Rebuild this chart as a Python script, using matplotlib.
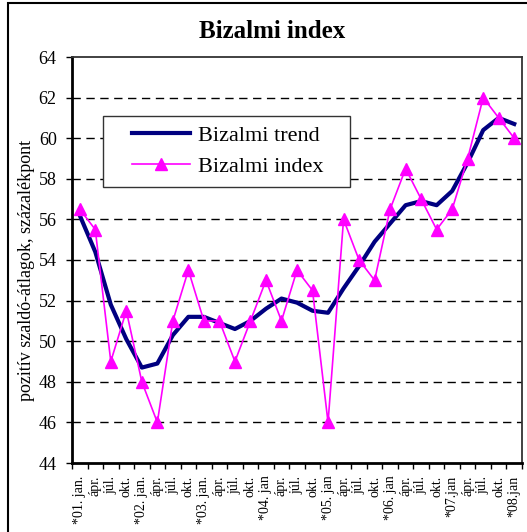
import matplotlib
matplotlib.use("Agg")
import matplotlib.pyplot as plt
from matplotlib.patches import Rectangle

plt.rcParams['font.family'] = ['Liberation Serif', 'DejaVu Serif']

# quarter labels, '01 jan .. '08 jan
labels = ["*01. jan.", "ápr.", "júl.", "okt.",
          "*02. jan.", "ápr.", "júl.", "okt.",
          "*03. jan.", "ápr.", "júl.", "okt.",
          "*04. jan", "ápr.", "júl.", "okt.",
          "*05. jan", "ápr.", "júl.", "okt.",
          "*06. jan", "ápr.", "júl.", "okt.",
          "*07.jan", "ápr.", "júl.", "okt.",
          "*08.jan"]

trend = [56.2, 54.4, 51.8, 50.1, 48.7, 48.9, 50.3, 51.2, 51.2, 50.9,
         50.6, 51.0, 51.6, 52.1, 51.9, 51.5, 51.4, 52.6, 53.7, 54.9,
         55.8, 56.7, 56.9, 56.7, 57.4, 58.8, 60.4, 61.0, 60.7]

index = [56.5, 55.5, 49.0, 51.5, 48.0, 46.0, 51.0, 53.5, 51.0, 51.0,
         49.0, 51.0, 53.0, 51.0, 53.5, 52.5, 46.0, 56.0, 54.0, 53.0,
         56.5, 58.5, 57.0, 55.5, 56.5, 59.0, 62.0, 61.0, 60.0]

x = list(range(len(labels)))

fig = plt.figure(figsize=(5.27, 5.32), dpi=100)
ax = fig.add_axes([72/527, 1-463/532, 450/527, 406/532])

for yv in range(46, 64, 2):
    ax.axhline(yv, color="black", lw=1, ls=(0, (6, 4)), zorder=1)

ax.plot(x, trend, color="#000080", lw=3, zorder=3, label="Bizalmi trend")
ax.plot(x, index, color="#ff00ff", lw=1.2, marker="^", ms=9,
        zorder=4, label="Bizalmi index")

ax.set_xlim(-0.5, len(labels) - 0.5)
ax.set_ylim(44, 64)
ax.set_yticks(range(44, 65, 2))
ax.tick_params(axis="y", direction="out", length=4, width=1, pad=7,
               labelsize=13)

ax.set_xticks(x)
ax.set_xticklabels(labels, rotation=90, fontsize=10, va="top", ha="center")
ax.set_xticks([i - 0.5 for i in range(len(labels) + 1)], minor=True)
ax.tick_params(axis="x", which="major", length=0, pad=9)
ax.tick_params(axis="x", which="minor", direction="out", length=4, width=1)

for side in ["left", "bottom"]:
    ax.spines[side].set_linewidth(2)
    ax.spines[side].set_color("black")
for side in ["top", "right"]:
    ax.spines[side].set_linewidth(1.3)
    ax.spines[side].set_color("#333333")

# legend frame drawn separately for its wide side padding
ax.add_patch(Rectangle((103/527, 1-187/532), 247/527, 71/532,
                       transform=fig.transFigure, fill=True,
                       facecolor="white", edgecolor="#333333", lw=1,
                       zorder=5))
leg = ax.legend(loc="center left", bbox_to_anchor=(128/527, 1-151/532),
                bbox_transform=fig.transFigure, frameon=False, fontsize=16,
                handlelength=2.6, handletextpad=0.35, labelspacing=0.45,
                borderpad=0.2, borderaxespad=0)
leg.set_zorder(6)

fig.text(272/527, 1-31/532, "Bizalmi index", ha="center", va="center",
         fontsize=18, fontweight="bold")
fig.text(27/527, 1-270/532, "pozitív szaldó-átlagok, százalékpont",
         rotation=90, ha="center", va="center", fontsize=13)

# outer frame of the chart
fig.add_artist(Rectangle((8/527, -0.05), 1.1, 1.05 - 3/532 + 0.0,
                         transform=fig.transFigure, fill=False,
                         edgecolor="black", lw=1.5))

fig.savefig("out.png", dpi=100)
